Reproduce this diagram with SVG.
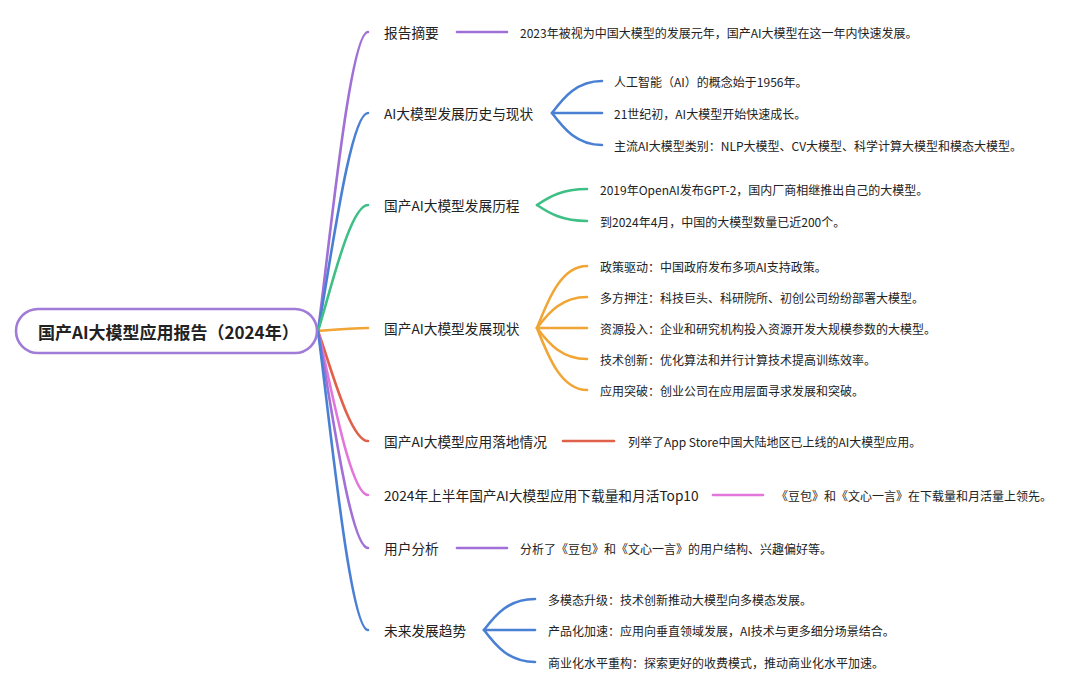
<svg xmlns="http://www.w3.org/2000/svg" width="1080" height="689" viewBox="0 0 1080 689">
<style>
text{font-family:"Noto Sans CJK SC","Noto Sans",sans-serif;fill:#222;dominant-baseline:central}
.root{font-size:17px;font-weight:bold}
.br{font-size:13.7px}
.lf{font-size:12px}
.c{fill:none;stroke-width:2.6;stroke-linecap:round}
.pu{stroke:#a070d6}.bl{stroke:#4a80d4}.gr{stroke:#3dbf85}.or{stroke:#f0a535}.rd{stroke:#e0604a}.pk{stroke:#e276da}
</style>
<rect width="1080" height="689" fill="#fff"/>
<g id="connectors">
<path class="c pu" d="M318,331 C330,241 350,32 368,32"/>
<path class="c bl" d="M318,331 C330,266 350,113 368,113"/>
<path class="c gr" d="M318,331 C330,293 350,205 368,205"/>
<path class="c or" d="M318,331 C330,330 350,328 368,328"/>
<path class="c rd" d="M318,331 C330,364 350,441 368,441"/>
<path class="c pk" d="M318,331 C330,380 350,495 368,495"/>
<path class="c pu" d="M318,331 C330,396 350,548 368,548"/>
<path class="c bl" d="M318,331 C330,421 350,630 368,630"/>
<path class="c pu" d="M457,32 H507"/>
<path class="c bl" d="M552,113 C564,97 577,81 602,81"/>
<path class="c bl" d="M552,113 H602"/>
<path class="c bl" d="M552,113 C564,129 577,145 602,145"/>
<path class="c gr" d="M537,205 C549,197 562,189 587,189"/>
<path class="c gr" d="M537,205 C549,213 562,221 587,221"/>
<path class="c or" d="M537,328 C549,297 562,266 587,266"/>
<path class="c or" d="M537,328 C549,312 562,297 587,297"/>
<path class="c or" d="M537,328 H587"/>
<path class="c or" d="M537,328 C549,344 562,359 587,359"/>
<path class="c or" d="M537,328 C549,359 562,390 587,390"/>
<path class="c rd" d="M563,441 H614"/>
<path class="c pk" d="M713,495 H763"/>
<path class="c pu" d="M457,548 H507"/>
<path class="c bl" d="M484,630 C496,614 509,599 535,599"/>
<path class="c bl" d="M484,630 H535"/>
<path class="c bl" d="M484,630 C496,646 509,662 535,662"/>
</g>
<g id="root">
<rect x="16" y="309" width="301" height="44" rx="22" fill="#fff" stroke="#a07cd8" stroke-width="2.6"/>
<text class="root" x="38" y="331">国产AI大模型应用报告（2024年）</text>
</g>
<g id="n1"><text class="br" x="384" y="32">报告摘要</text></g>
<g id="n1a"><text class="lf" x="520" y="32">2023年被视为中国大模型的发展元年，国产AI大模型在这一年内快速发展。</text></g>
<g id="n2"><text class="br" x="384" y="113">AI大模型发展历史与现状</text></g>
<g id="n2a"><text class="lf" x="614" y="81">人工智能（AI）的概念始于1956年。</text></g>
<g id="n2b"><text class="lf" x="614" y="113">21世纪初，AI大模型开始快速成长。</text></g>
<g id="n2c"><text class="lf" x="614" y="145">主流AI大模型类别：NLP大模型、CV大模型、科学计算大模型和模态大模型。</text></g>
<g id="n3"><text class="br" x="384" y="205">国产AI大模型发展历程</text></g>
<g id="n3a"><text class="lf" x="600" y="189">2019年OpenAI发布GPT-2，国内厂商相继推出自己的大模型。</text></g>
<g id="n3b"><text class="lf" x="600" y="221">到2024年4月，中国的大模型数量已近200个。</text></g>
<g id="n4"><text class="br" x="384" y="328">国产AI大模型发展现状</text></g>
<g id="n4a"><text class="lf" x="600" y="266">政策驱动：中国政府发布多项AI支持政策。</text></g>
<g id="n4b"><text class="lf" x="600" y="297">多方押注：科技巨头、科研院所、初创公司纷纷部署大模型。</text></g>
<g id="n4c"><text class="lf" x="600" y="328">资源投入：企业和研究机构投入资源开发大规模参数的大模型。</text></g>
<g id="n4d"><text class="lf" x="600" y="359">技术创新：优化算法和并行计算技术提高训练效率。</text></g>
<g id="n4e"><text class="lf" x="600" y="390">应用突破：创业公司在应用层面寻求发展和突破。</text></g>
<g id="n5"><text class="br" x="384" y="441">国产AI大模型应用落地情况</text></g>
<g id="n5a"><text class="lf" x="628" y="441">列举了App Store中国大陆地区已上线的AI大模型应用。</text></g>
<g id="n6"><text class="br" x="384" y="495">2024年上半年国产AI大模型应用下载量和月活Top10</text></g>
<g id="n6a"><text class="lf" x="776" y="495">《豆包》和《文心一言》在下载量和月活量上领先。</text></g>
<g id="n7"><text class="br" x="384" y="548">用户分析</text></g>
<g id="n7a"><text class="lf" x="520" y="548">分析了《豆包》和《文心一言》的用户结构、兴趣偏好等。</text></g>
<g id="n8"><text class="br" x="384" y="630">未来发展趋势</text></g>
<g id="n8a"><text class="lf" x="548" y="599">多模态升级：技术创新推动大模型向多模态发展。</text></g>
<g id="n8b"><text class="lf" x="548" y="630">产品化加速：应用向垂直领域发展，AI技术与更多细分场景结合。</text></g>
<g id="n8c"><text class="lf" x="548" y="662">商业化水平重构：探索更好的收费模式，推动商业化水平加速。</text></g>
</svg>
